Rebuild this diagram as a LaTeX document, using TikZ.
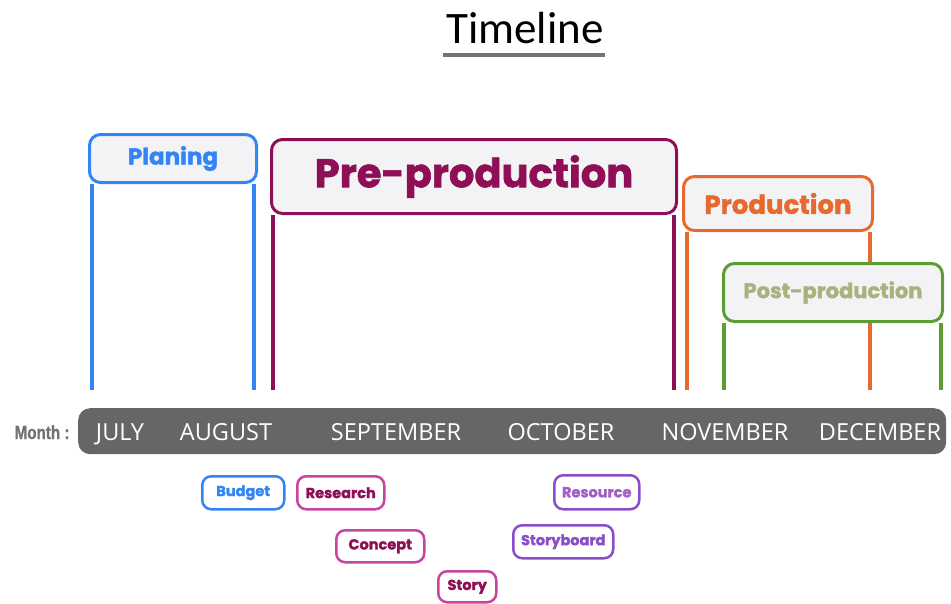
\documentclass[tikz,border=0pt]{standalone}
\usepackage{fontspec}
\setmainfont[BoldFeatures={FakeBold=1.6}]{Poppins}
\newfontfamily\titlefont{Carlito}
\newfontfamily\monthfont{Open Sans}
\newfontfamily\condfont[FakeStretch=0.8,FakeBold=1]{Liberation Sans}
\definecolor{cblue}{HTML}{3385F5}
\definecolor{cmag}{HTML}{8E0F55}
\definecolor{cmagl}{HTML}{C8449E}
\definecolor{corange}{HTML}{E8692E}
\definecolor{cgreen}{HTML}{5E9C34}
\definecolor{cgreent}{HTML}{A9B27E}
\definecolor{cpurple}{HTML}{8A4FC8}
\definecolor{cpurplet}{HTML}{A35DC6}
\definecolor{hdrfill}{HTML}{F3F3F5}
\definecolor{bargray}{HTML}{666666}
\begin{document}
\begin{tikzpicture}[x=1pt,y=-1pt,
  phase/.style={draw,line width=3pt,rounded corners=11pt,fill=hdrfill,inner sep=0pt,anchor=north west,font=\bfseries},
  leg/.style={line width=3.5pt},
  task/.style={draw,line width=2.5pt,rounded corners=9pt,fill=white,inner sep=0pt,anchor=north west,font=\bfseries\fontsize{14.5}{16}\selectfont},
  month/.style={text=white,anchor=base,font=\monthfont\fontsize{23.5}{26}\selectfont}]
\useasboundingbox (0,0) rectangle (951,603);
% title
\node[font=\titlefont\fontsize{45}{48}\selectfont] (title) at (525,28) {Timeline};
\draw[line width=4pt,gray!90!black] (443,55) -- (605,55);
\coordinate (base) at (0,390);
% month bar
\node[fill=bargray,rounded corners=12pt,minimum width=868pt,minimum height=46pt,anchor=north west,inner sep=0pt] (bar) at (78,408) {};
\node[anchor=base east,text=gray!90!black,font=\condfont\bfseries\fontsize{19}{22}\selectfont] (mlabel) at (73,439) {Month :};
\node[month] (jul) at (120,440) {JULY};
\node[month] (aug) at (226,440) {AUGUST};
\node[month] (sep) at (396,440) {SEPTEMBER};
\node[month] (oct) at (561,440) {OCTOBER};
\node[month] (nov) at (725,440) {NOVEMBER};
\node[month] (dec) at (880,440) {DECEMBER};
% Planing
\node[phase,draw=cblue,text=cblue,minimum width=167pt,minimum height=48pt,font=\bfseries\fontsize{23}{26}\selectfont] (plan) at (88,133) {Planing};
\draw[leg,cblue] ([xshift=4pt]plan.south west) -- ([xshift=4pt]plan.south west |- base);
\draw[leg,cblue] ([xshift=-4pt]plan.south east) -- ([xshift=-4pt]plan.south east |- base);
% Pre-production
\node[phase,draw=cmag,text=cmag,minimum width=405pt,minimum height=74pt,font=\bfseries\fontsize{40}{44}\selectfont] (pre) at (270,138) {Pre-production};
\draw[leg,cmag] ([xshift=3pt]pre.south west) -- ([xshift=3pt]pre.south west |- base);
\draw[leg,cmag] ([xshift=-4pt]pre.south east) -- ([xshift=-4pt]pre.south east |- base);
% Production
\node[phase,draw=corange,text=corange,minimum width=189pt,minimum height=54pt,font=\bfseries\fontsize{26}{30}\selectfont] (prod) at (682,175) {Production};
\draw[leg,corange] ([xshift=5pt]prod.south west) -- ([xshift=5pt]prod.south west |- base);
\draw[leg,corange] ([xshift=-4pt]prod.south east) -- ([xshift=-4pt]prod.south east |- base);
% Post-production
\node[phase,draw=cgreen,text=cgreent,minimum width=219pt,minimum height=58pt,font=\bfseries\fontsize{21}{24}\selectfont] (post) at (722,262) {Post-production};
\draw[leg,cgreen] ([xshift=2pt]post.south west) -- ([xshift=2pt]post.south west |- base);
\draw[leg,cgreen] ([xshift=-3pt]post.south east) -- ([xshift=-3pt]post.south east |- base);
% tasks
\node[task,draw=cblue,text=cblue,minimum width=82pt,minimum height=33pt] (budget) at (201,475) {Budget};
\node[task,draw=cmagl,text=cmag,minimum width=87pt,minimum height=33pt] (research) at (296,475) {Research};
\node[task,draw=cmagl,text=cmag,minimum width=88pt,minimum height=32pt] (concept) at (335,529) {Concept};
\node[task,draw=cmagl,text=cmag,minimum width=58pt,minimum height=31pt] (story) at (437,570) {Story};
\node[task,draw=cpurple,text=cpurple,minimum width=100pt,minimum height=33pt] (storyboard) at (512,524) {Storyboard};
\node[task,draw=cpurple,text=cpurplet,minimum width=85pt,minimum height=34pt] (resource) at (553,474) {Resource};
\end{tikzpicture}
\end{document}
